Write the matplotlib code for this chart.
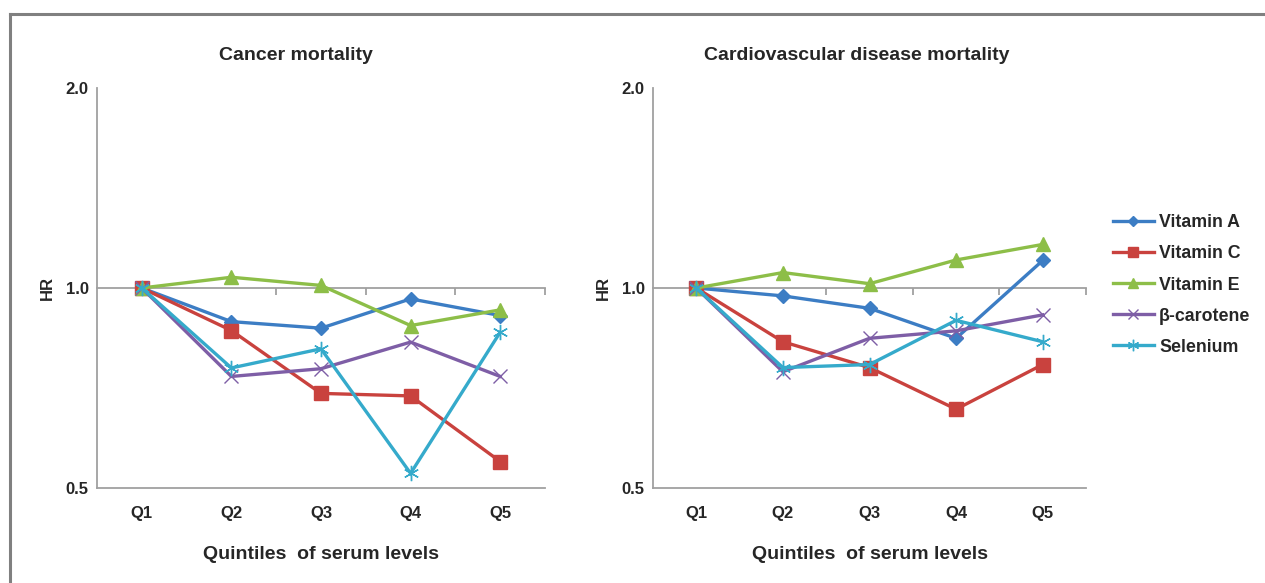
import matplotlib
matplotlib.use('Agg')
import matplotlib.pyplot as plt
from matplotlib.lines import Line2D
import numpy as np

plt.rcParams['font.family'] = ['Liberation Sans', 'DejaVu Sans']

quintiles = ['Q1', 'Q2', 'Q3', 'Q4', 'Q5']
series_names = ['Vitamin A', 'Vitamin C', 'Vitamin E', 'β-carotene', 'Selenium']

cancer_vitA = [1.0, 0.890, 0.870, 0.963, 0.909]
cancer_vitC = [1.0, 0.863, 0.694, 0.688, 0.548]
cancer_vitE = [1.0, 1.038, 1.009, 0.878, 0.927]
cancer_bcar = [1.0, 0.736, 0.756, 0.829, 0.736]
cancer_sel = [1.0, 0.758, 0.810, 0.526, 0.858]

cvd_vitA = [1.0, 0.973, 0.932, 0.840, 1.100]
cvd_vitC = [1.0, 0.830, 0.759, 0.657, 0.767]
cvd_vitE = [1.0, 1.055, 1.015, 1.102, 1.163]
cvd_bcar = [1.0, 0.748, 0.840, 0.862, 0.911]
cvd_sel = [1.0, 0.759, 0.767, 0.894, 0.830]

panel_titles = ['Cancer mortality', 'Cardiovascular disease mortality']
ytick_vals = [0.5, 1.0, 2.0]
ytick_labels = ['0.5', '1.0', '2.0']

colors = ['#3C7DC4', '#C9423E', '#8DBE48', '#7E5EA6', '#35AACB']
markers = ['D', 's', '^', 'x', (6, 2, 0)]
msizes = [7, 10, 10, 10, 11]
mews = [1, 1, 1, 1.0, 1.0]

text_color = '#262626'
axis_color = '#A0A0A0'

fig = plt.figure(figsize=(12.65, 5.83), dpi=100)

# figure frame (top and left lines)
fig.add_artist(Line2D([10/1265, 1.0], [1 - 14/583, 1 - 14/583], color='#808080', lw=2.2, transform=fig.transFigure))
fig.add_artist(Line2D([10/1265, 10/1265], [0, 1 - 14/583], color='#808080', lw=2.2, transform=fig.transFigure))

ax1 = fig.add_axes([97/1265, 1 - 488/583, (545 - 97)/1265, 400/583])
ax2 = fig.add_axes([653/1265, 1 - 488/583, (1086 - 653)/1265, 400/583])

data_sets = [
    [cancer_vitA, cancer_vitC, cancer_vitE, cancer_bcar, cancer_sel],
    [cvd_vitA, cvd_vitC, cvd_vitE, cvd_bcar, cvd_sel],
]
title_x = [0.444, 0.471]

x = np.arange(len(quintiles))
handles = []
for k, (ax, dsets) in enumerate(zip([ax1, ax2], data_sets)):
    for i, vals in enumerate(dsets):
        mfc = colors[i]
        h, = ax.plot(x, vals, color=colors[i], lw=2.4, marker=markers[i],
                     markersize=msizes[i], markerfacecolor=mfc,
                     markeredgecolor=colors[i], markeredgewidth=mews[i],
                     label=series_names[i], solid_joinstyle='miter')
        if k == 0:
            handles.append(h)
    ax.set_yscale('log')
    ax.set_ylim(0.5, 2.0)
    ax.set_xlim(-0.5, len(quintiles) - 0.5)
    ax.set_yticks(ytick_vals)
    ax.set_yticklabels(ytick_labels)
    ax.yaxis.set_minor_locator(matplotlib.ticker.NullLocator())
    ax.set_xticks(x)
    ax.set_xticklabels(quintiles)
    ax.tick_params(axis='both', length=0, labelsize=12, labelcolor=text_color)
    ax.tick_params(axis='x', pad=13)
    ax.tick_params(axis='y', pad=6)
    for lab in ax.get_xticklabels() + ax.get_yticklabels():
        lab.set_fontweight('bold')
    for s in ['top', 'right']:
        ax.spines[s].set_visible(False)
    for s in ['left', 'bottom']:
        ax.spines[s].set_color(axis_color)
        ax.spines[s].set_linewidth(1.3)
    ax.set_title(panel_titles[k], fontsize=14, fontweight='bold', color=text_color,
                 x=title_x[k], pad=20)
    ax.set_xlabel('Quintiles  of serum levels', fontsize=14, fontweight='bold',
                  color=text_color, labelpad=18)
    ax.set_ylabel('HR', fontsize=12, fontweight='bold', color=text_color, labelpad=8)

    # category axis crossing at HR = 1.0
    sec = ax.secondary_xaxis(0.5)
    sec.set_alignment('bottom')
    sec.set_xticks(x[1:] + 0.5)
    sec.tick_params(axis='x', direction='out', length=5, width=1.3, color=axis_color,
                    labelbottom=False, labeltop=False)
    sec.spines['bottom'].set_color(axis_color)
    sec.spines['bottom'].set_linewidth(1.3)
    sec.set_zorder(0.5)

leg = fig.legend(handles=handles, loc='center left',
                 bbox_to_anchor=(1113/1265, 1 - 285/583), frameon=False,
                 prop={'weight': 'bold', 'size': 12.8}, handlelength=2.3,
                 handletextpad=0.3, labelspacing=0.79, borderaxespad=0,
                 borderpad=0, markerscale=0.75)
for t in leg.get_texts():
    t.set_color(text_color)

fig.savefig('out.png', dpi=100)
